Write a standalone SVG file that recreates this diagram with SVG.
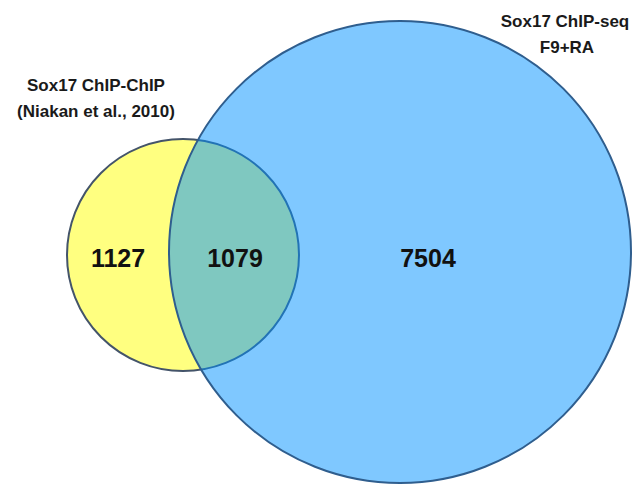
<svg xmlns="http://www.w3.org/2000/svg" width="635" height="487" viewBox="0 0 635 487">
<style>
.lbl{font-family:"Liberation Sans",Arial,sans-serif;font-weight:bold;font-size:17px;fill:#1a1a1a;text-anchor:middle}
.num{font-family:"Liberation Sans",Arial,sans-serif;font-weight:bold;font-size:25px;fill:#111;text-anchor:middle}
</style>
<rect width="635" height="487" fill="#fff"/>
<g id="set-chipchip">
<circle cx="183" cy="255" r="116" fill="#FFFF80" stroke="#44546A" stroke-width="2"/>
</g>
<g id="set-chipseq">
<circle cx="400" cy="252" r="231" fill="rgb(0,145,255)" fill-opacity="0.5" stroke="#2F5E8E" stroke-width="2"/>
</g>
<g id="labels">
<text class="lbl" x="96" y="91">Sox17 ChIP-ChIP</text>
<text class="lbl" x="96" y="117">(Niakan et al., 2010)</text>
<text class="lbl" x="565" y="27">Sox17 ChIP-seq</text>
<text class="lbl" x="567" y="53">F9+RA</text>
<text class="num" x="118" y="267">1127</text>
<text class="num" x="235" y="267">1079</text>
<text class="num" x="428" y="267">7504</text>
</g>
</svg>
